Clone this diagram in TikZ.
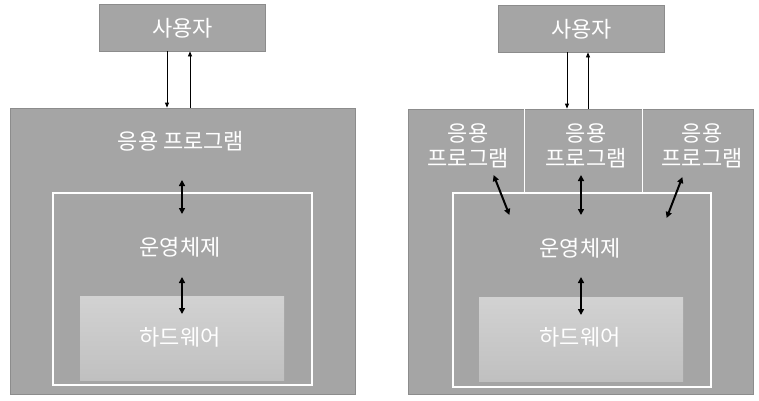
\documentclass[tikz,border=0pt]{standalone}
\usepackage{fontspec}
\setmainfont{Noto Sans CJK KR}
\usetikzlibrary{arrows.meta}
\begin{document}
\begin{tikzpicture}[x=1pt,y=-1pt,
  graybox/.style={draw=gray!100!black!90, fill=boxgray, line width=0.8pt},
  osbox/.style={draw=white, line width=1.6pt},
  hwbox/.style={top color=hwtop, bottom color=hwbot, draw=none},
  lbl/.style={text=white, font=\fontsize{22}{25}\selectfont, inner sep=0pt, align=center},
  thin/.style={-{Triangle[length=5pt,width=4pt]}, line width=0.8pt, black},
  thick/.style={{Triangle[length=6pt,width=6pt]}-{Triangle[length=6pt,width=6pt]}, line width=2pt, black, shorten <=-1pt, shorten >=-1pt}
]
\definecolor{boxgray}{HTML}{A5A5A5}
\definecolor{hwtop}{HTML}{D2D2D2}
\definecolor{hwbot}{HTML}{C0C0C0}
\useasboundingbox (0,0) rectangle (759,400);
\fill[white] (0,0) rectangle (759,400);
% ---------- left ----------
\node[graybox, minimum width=166pt, minimum height=47pt, anchor=north west] (userL) at (99,4) {};
\node[lbl] at (userL.center) {사용자};
\node[graybox, minimum width=345pt, minimum height=286pt, anchor=north west] (appL) at (10,108) {};
\node[lbl] (appLt) at (181,141) {응용 프로그램};
\node[osbox, minimum width=259pt, minimum height=192pt, anchor=north west] (osL) at (52,192) {};
\node[lbl] (osLt) at (180,247) {운영체제};
\node[hwbox, minimum width=204pt, minimum height=84pt, anchor=north west] (hwL) at (80,296) {};
\node[lbl] (hwLt) at (180,337) {하드웨어};
\coordinate (dL1) at (167,51.4);
\coordinate (dL2) at (167,107.6);
\coordinate (uL1) at (190,107.6);
\coordinate (uL2) at (190,51.4);
\draw[thin] (dL1) -- (dL2);
\draw[thin] (uL1) -- (uL2);
\coordinate (aL1) at (182,181);
\coordinate (aL2) at (182,213);
\coordinate (bL1) at (182,278);
\coordinate (bL2) at (182,313);
\draw[thick] (aL1) -- (aL2);
\draw[thick] (bL1) -- (bL2);
% ---------- right ----------
\node[graybox, minimum width=166pt, minimum height=47pt, anchor=north west] (userR) at (498,5) {};
\node[lbl] at (userR.center) {사용자};
\node[graybox, minimum width=345pt, minimum height=285pt, anchor=north west] (appR) at (408,109) {};
\draw[white, line width=0.8pt] (524,109.4) -- (524,192);
\draw[white, line width=0.8pt] (642,109.4) -- (642,192);
\node[lbl] (appR1) at (468,146) {응용\\프로그램};
\node[lbl] (appR2) at (586,146) {응용\\프로그램};
\node[lbl] (appR3) at (702,146) {응용\\프로그램};
\node[osbox, minimum width=258pt, minimum height=194pt, anchor=north west] (osR) at (452,192) {};
\node[lbl] (osRt) at (580,248) {운영체제};
\node[hwbox, minimum width=204pt, minimum height=84pt, anchor=north west] (hwR) at (479,297) {};
\node[lbl] (hwRt) at (580,337) {하드웨어};
\coordinate (dR1) at (567,52.4);
\coordinate (dR2) at (567,108.6);
\coordinate (uR1) at (588,108.6);
\coordinate (uR2) at (588,52.4);
\draw[thin] (dR1) -- (dR2);
\draw[thin] (uR1) -- (uR2);
\coordinate (r1a) at (494,176);
\coordinate (r1b) at (509,214);
\coordinate (r2a) at (581,176);
\coordinate (r2b) at (581,214);
\coordinate (r3a) at (682,178);
\coordinate (r3b) at (667,217);
\draw[thick] (r1a) -- (r1b);
\draw[thick] (r2a) -- (r2b);
\draw[thick] (r3a) -- (r3b);
\coordinate (bR1) at (581,278);
\coordinate (bR2) at (581,314);
\draw[thick] (bR1) -- (bR2);
\end{tikzpicture}
\end{document}
